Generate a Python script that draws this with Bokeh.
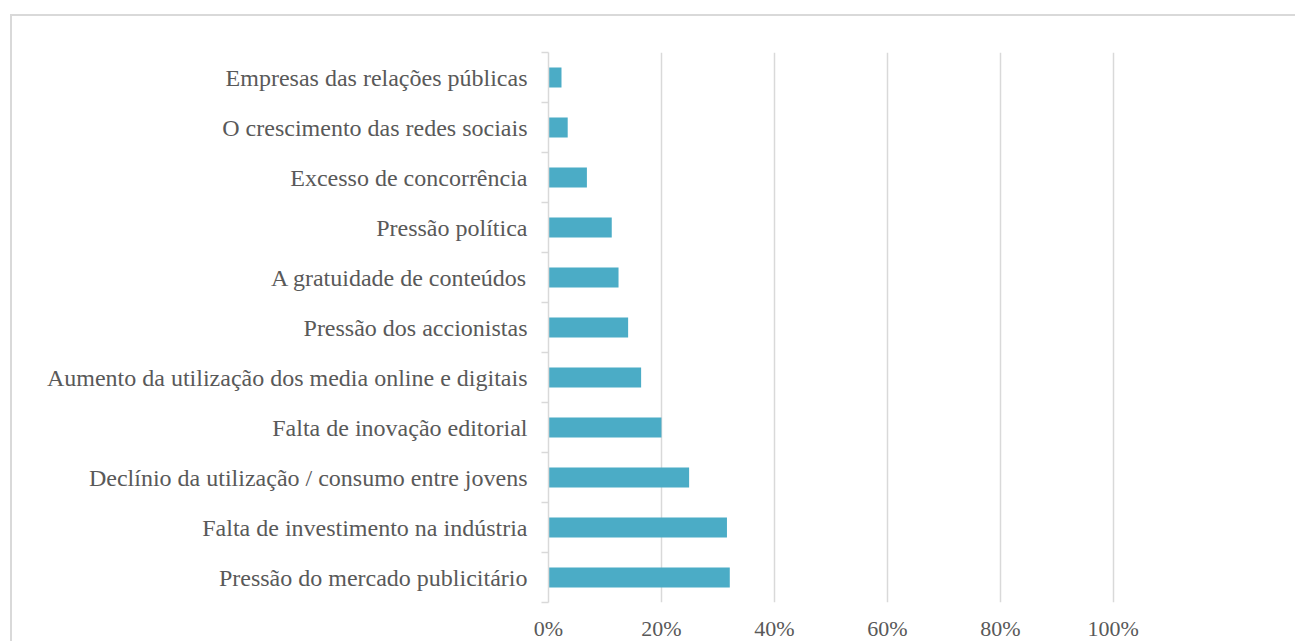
from bokeh.plotting import figure
from bokeh.models import Range1d, FixedTicker, NumeralTickFormatter, ColumnDataSource
from bokeh.embed import file_html
from bokeh.resources import INLINE

categories = [
    "Empresas das relações públicas",
    "O crescimento das redes sociais",
    "Excesso de concorrência",
    "Pressão política",
    "A gratuidade de conteúdos",
    "Pressão dos accionistas",
    "Aumento da utilização dos media online e digitais",
    "Falta de inovação editorial",
    "Declínio da utilização / consumo entre jovens",
    "Falta de investimento na indústria",
    "Pressão do mercado publicitário",
]
values = [0.023, 0.034, 0.068, 0.112, 0.124, 0.141, 0.164, 0.200, 0.249, 0.316, 0.321]
x_ticks = [0.0, 0.2, 0.4, 0.6, 0.8, 1.0]

# bottom-to-top order for a numeric y scale
cats_bt = categories[::-1]
vals_bt = values[::-1]
ypos = list(range(len(cats_bt)))

src = ColumnDataSource(dict(y=ypos, v=vals_bt, cat=cats_bt))

# page offsets for the chart-area outline
OX, OY, BW = 10, 14, 2
CX, CY = OX + BW, OY + BW          # canvas origin on the page
W, H = 1297 - CX, 643 - CY          # canvas size
FL, FR, FT, FB = 548, 1115, 52, 603  # frame edges on the page

p = figure(width=W, height=H, output_backend="svg", toolbar_location=None,
           x_range=Range1d(0, 1.004), y_range=Range1d(-0.5, len(cats_bt) - 0.5),
           min_border_left=FL - CX, min_border_right=1297 - FR,
           min_border_top=FT - CY, min_border_bottom=643 - FB)
p.margin = (OY, 0, 0, OX)
p.styles = {"border-top": f"{BW}px solid #D9D9D9", "border-left": f"{BW}px solid #D9D9D9"}
p.outline_line_color = None
p.background_fill_color = "white"
p.border_fill_color = "white"

p.hbar(y="y", left=0, right="v", height=0.4, source=src,
       fill_color="#4BACC6", line_color=None)

# x axis
p.xaxis.ticker = FixedTicker(ticks=x_ticks)
p.xaxis.formatter = NumeralTickFormatter(format="0%")
p.xaxis.axis_line_color = None
p.xaxis.major_tick_line_color = None
p.xaxis.minor_tick_line_color = None
p.xaxis.major_tick_out = 0
p.xaxis.major_tick_in = 0
p.xaxis.minor_tick_out = 0
p.xaxis.minor_tick_in = 0
p.xaxis.major_label_text_font = "Liberation Serif"
p.xaxis.major_label_text_font_size = "22px"
p.xaxis.major_label_text_color = "#595959"
p.xaxis.major_label_standoff = 13

# y axis
p.yaxis.ticker = FixedTicker(ticks=ypos, minor_ticks=[i - 0.5 for i in range(len(cats_bt) + 1)])
p.yaxis.major_label_overrides = {i: c for i, c in zip(ypos, cats_bt)}
p.yaxis.axis_line_color = "#D9D9D9"
p.yaxis.axis_line_width = 1.5
p.yaxis.major_tick_line_color = None
p.yaxis.major_tick_out = 0
p.yaxis.major_tick_in = 0
p.yaxis.minor_tick_line_color = "#D9D9D9"
p.yaxis.minor_tick_line_width = 1.5
p.yaxis.minor_tick_out = 7
p.yaxis.minor_tick_in = 0
p.yaxis.major_label_text_font = "Liberation Serif"
p.yaxis.major_label_text_font_size = "24px"
p.yaxis.major_label_text_color = "#595959"
p.yaxis.major_label_standoff = 14

p.xgrid.ticker = FixedTicker(ticks=x_ticks)
p.xgrid.grid_line_color = "#D9D9D9"
p.xgrid.grid_line_width = 1.5
p.ygrid.grid_line_color = None

open("out.html", "w").write(file_html(p, INLINE))
